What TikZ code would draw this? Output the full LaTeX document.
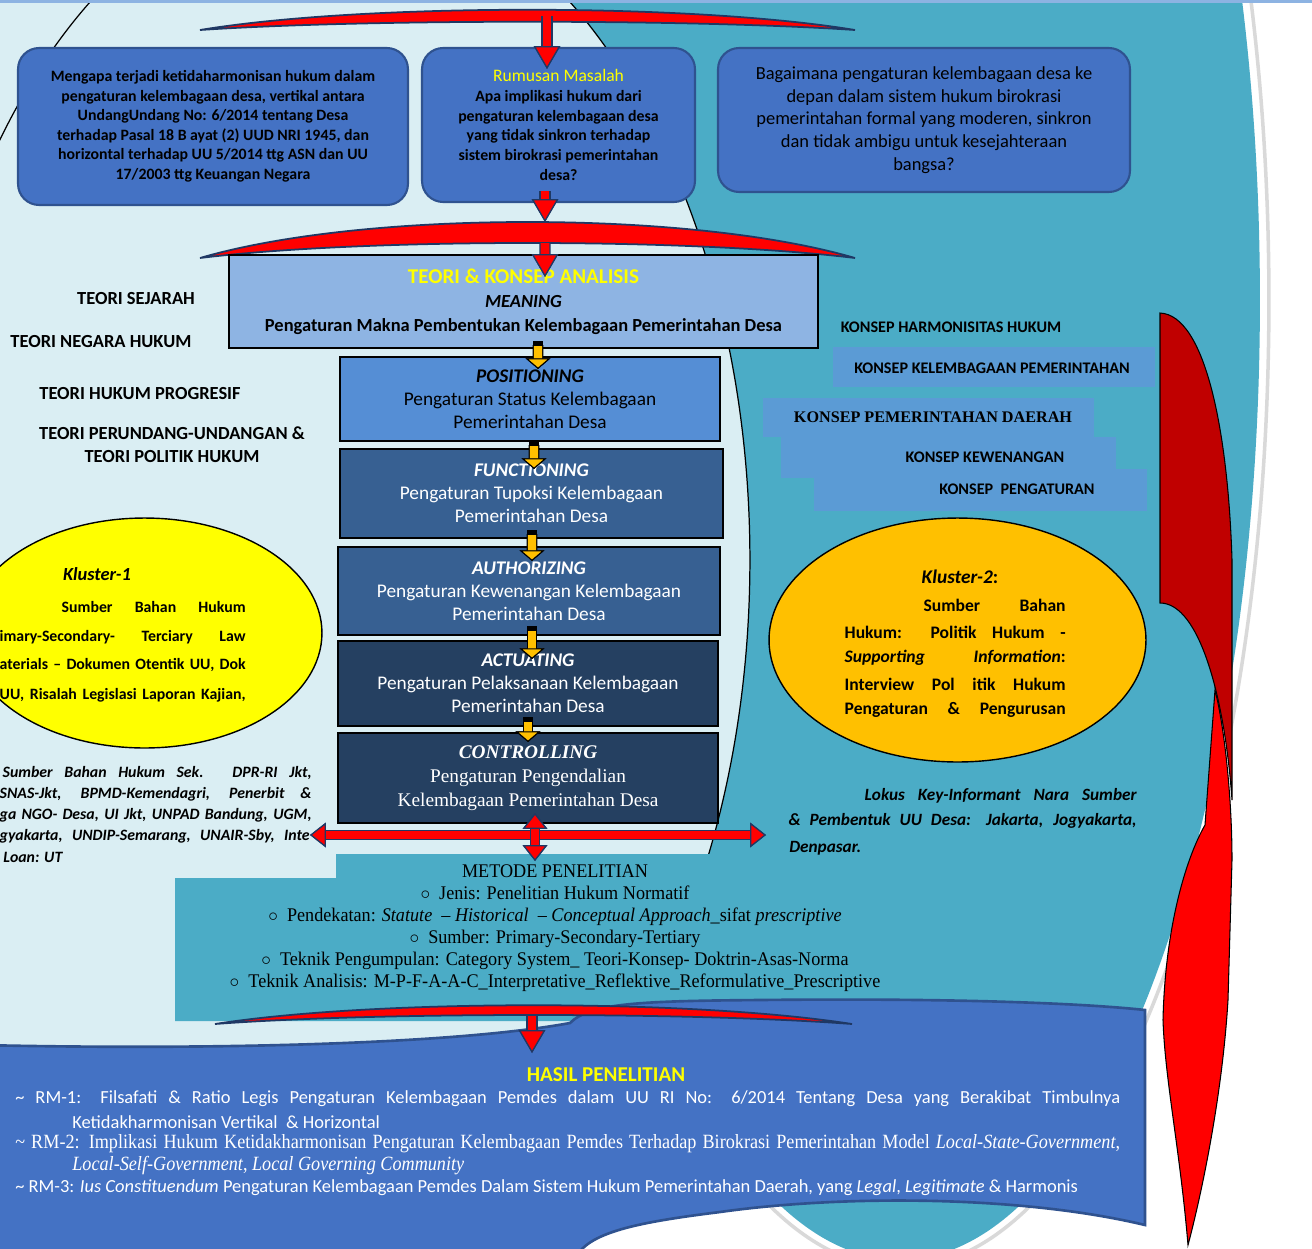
\documentclass[tikz,border=0pt]{standalone}
\usepackage{fontspec}
\setmainfont{Carlito}
\newfontfamily\tnr[Ligatures=TeX]{Liberation Serif}
\newfontfamily\tnrc[Ligatures=TeX,FakeStretch=0.9]{Liberation Serif}
\newfontfamily\tnrm[Ligatures=TeX,FakeStretch=0.94]{Liberation Serif}
\usetikzlibrary{arrows.meta,calc,positioning,shapes.geometric}

\definecolor{lightbg}{HTML}{DAEEF3}
\definecolor{teal1}{HTML}{4BACC6}
\definecolor{boxblue}{HTML}{4472C4}
\definecolor{boxedge}{HTML}{2F528F}
\definecolor{teoriblue}{HTML}{8EB4E3}
\definecolor{posblue}{HTML}{558ED5}
\definecolor{midnavy}{HTML}{376092}
\definecolor{darknavy}{HTML}{254061}
\definecolor{konsepblue}{HTML}{5B9BD5}
\definecolor{yel}{HTML}{FFFF00}
\definecolor{ambr}{HTML}{FFC000}
\definecolor{darkred}{HTML}{C00000}
\definecolor{navyline}{HTML}{1F3864}
\definecolor{topline}{HTML}{8DB3E2}

\newcommand{\jline}[2]{\makebox[#1][s]{#2}}
% curved red band: left x, right x, tip y, outer control y, inner control y
\newcommand{\redband}[5]{%
  \filldraw[band] (#1,#3) .. controls ({#1+(#2-#1)/4},#4) and ({#2-(#2-#1)/4},#4) .. (#2,#3)
    .. controls ({#2-(#2-#1)/4},#5) and ({#1+(#2-#1)/4},#5) .. cycle;}

\begin{document}
\begin{tikzpicture}[x=0.02cm, y=-0.02cm,
    qbox/.style={rectangle, rounded corners=12pt, draw=boxedge, line width=1.2pt, fill=boxblue, align=center, inner sep=0pt},
    stepbox/.style={rectangle, draw=black, line width=1.2pt, align=center, inner sep=0pt},
    kl/.style={ellipse, draw=black, line width=0.8pt, inner sep=0pt},
    teori/.style={font=\bfseries\fontsize{10.5}{13}\selectfont, align=center},
    konlbl/.style={font=\bfseries\fontsize{9.2}{11}\selectfont},
    kltx/.style={font=\bfseries\fontsize{9}{11}\selectfont, inner sep=0pt, anchor=east},
    k2tx/.style={font=\bfseries\fontsize{10}{12}\selectfont, inner sep=0pt, anchor=east},
    ltx/.style={font=\bfseries\itshape\fontsize{9}{11}\selectfont, inner sep=0pt},
    lok/.style={font=\bfseries\itshape\fontsize{9.8}{12}\selectfont, inner sep=0pt},
    rmtx/.style={text=white, inner sep=0pt, anchor=west},
    band/.style={fill=red, draw=navyline, line width=1pt},
    rarr/.style={draw=red, line width=5pt,
      -{Triangle[length=13pt,width=15pt,line width=0.7pt,fill=red,color=navyline]},
      preaction={draw=navyline, line width=6.4pt,
        -{Triangle[length=13pt,width=15pt,line width=0.7pt,fill=red,color=navyline]}}},
    rdbl/.style={draw=red, line width=4pt,
      {Triangle[length=9pt,width=14pt,line width=0.7pt,fill=red,color=navyline]}-{Triangle[length=9pt,width=14pt,line width=0.7pt,fill=red,color=navyline]},
      preaction={draw=navyline, line width=5.4pt,
        {Triangle[length=9pt,width=14pt,line width=0.7pt,fill=red,color=navyline]}-{Triangle[length=9pt,width=14pt,line width=0.7pt,fill=red,color=navyline]}}},
    yarr/.style={draw=ambr, line width=4.6pt,
      {Rectangle[length=3pt,width=6pt,fill=black,color=black]}-{Triangle[length=6pt,width=14pt,line width=0.6pt,fill=ambr,color=black]},
      preaction={draw=black, line width=6pt,
        {Rectangle[length=3pt,width=6pt,fill=black,color=black]}-{Triangle[length=6pt,width=14pt,line width=0.6pt,fill=ambr,color=black]}}}
  ]
\useasboundingbox (0,0) rectangle (1312,1248);
\clip (0,0) rectangle (1312,1248);

% background
\fill[white] (0,0) rectangle (1312,1248);
\fill[lightbg] (0,0) rectangle (300,1248);
\filldraw[fill=white, draw=gray!30, line width=2pt] (900,300) ellipse [x radius=7.38cm, y radius=19.36cm];
\fill[teal1] (900,300) ellipse [x radius=7.2cm, y radius=19.2cm];
\fill[lightbg] (330,560) ellipse [x radius=8.4cm, y radius=13.6cm];
\begin{scope}
  \clip (0,0) rectangle (1312,900);
  \draw[black, line width=0.7pt] (330,560) ellipse [x radius=8.4cm, y radius=13.6cm];
\end{scope}
\fill[topline] (0,0) rectangle (1312,3);

% metode area and hasil scroll
\fill[teal1] (175,878) -- (336,878) -- (336,854) -- (770,854) -- (770,1021) -- (175,1021) -- cycle;
\filldraw[fill=boxblue, draw=boxedge, line width=1.5pt] (-20,1045) .. controls (200,1050) and (450,1045) .. (570,1023)
  .. controls (590,1003) and (640,1001) .. (760,1000) .. controls (950,998) and (1080,1003) .. (1145,1010)
  -- (1145,1225) .. controls (1020,1195) and (840,1195) .. (720,1212)
  .. controls (640,1222) and (585,1232) .. (575,1260) -- (-20,1260) -- cycle;
\coordinate (scrolltop) at (532,1053);

% big curved arrow on the right
\filldraw[fill=red, draw=black, line width=0.6pt] (1215,690) .. controls (1225,730) and (1232,800) .. (1232,860)
  -- (1228,1000) .. controls (1222,1100) and (1200,1200) .. (1188,1245)
  .. controls (1180,1150) and (1165,1080) .. (1163,1020) .. controls (1165,930) and (1185,860) .. (1205,825) -- cycle;
\filldraw[fill=darkred, draw=black, line width=0.6pt] (1160,313) .. controls (1205,315) and (1228,430) .. (1232,560)
  -- (1232,800) .. controls (1225,700) and (1200,603) .. (1160,603) -- cycle;

% problem boxes
\node[qbox, minimum width=7.8cm, minimum height=3.14cm, font=\bfseries\fontsize{9}{11.1}\selectfont] (boxA) at (213,126.5)
  {Mengapa terjadi ketidaharmonisan hukum dalam\\ pengaturan kelembagaan desa, vertikal antara\\ UndangUndang No: 6/2014 tentang Desa\\ terhadap Pasal 18 B ayat (2) UUD NRI 1945, dan\\ horizontal terhadap UU 5/2014 ttg ASN dan UU\\ 17/2003 ttg Keuangan Negara};
\node[qbox, minimum width=5.46cm, minimum height=3.08cm, font=\bfseries\fontsize{9}{11.2}\selectfont] (boxB) at (558.5,125)
  {{\mdseries\fontsize{10}{11.2}\selectfont\color{yel}Rumusan Masalah}\\ Apa implikasi hukum dari\\ pengaturan kelembagaan desa\\ yang tidak sinkron terhadap\\ sistem birokrasi pemerintahan\\ desa?};
\node[qbox, minimum width=8.24cm, minimum height=2.88cm, font=\fontsize{10.5}{12.9}\selectfont] (boxC) at (924,120)
  {Bagaimana pengaturan kelembagaan desa ke\\ depan dalam sistem hukum birokrasi\\ pemerintahan formal yang moderen, sinkron\\ dan tidak ambigu untuk kesejahteraan\\ bangsa?};

% red bands
\redband{200}{855}{30}{3}{19}
\redband{200}{855}{258}{210}{238}
\redband{215}{852}{1024}{999}{1012}
\coordinate (b1) at (547,16);
\coordinate (b2) at (545,222);
\coordinate (b3) at (532,1016);

% konsep
\fill[konsepblue] (833,347) rectangle (1155,387);
\fill[konsepblue] (763,398) rectangle (1094,437);
\fill[konsepblue] (781,437) rectangle (1116,478);
\fill[konsepblue] (814,469) rectangle (1147,511);
\node[konlbl] (kharm) at (951,327) {KONSEP HARMONISITAS HUKUM};
\node[konlbl] (klem) at (992,368) {KONSEP KELEMBAGAAN PEMERINTAHAN};
\node[font=\tnr\bfseries\fontsize{9.2}{11}\selectfont] (kpd) at (933,417) {KONSEP PEMERINTAHAN DAERAH};
\node[konlbl] (kkew) at (985,457) {KONSEP KEWENANGAN};
\node[konlbl] (kpeng) at (1017,489) {KONSEP \ PENGATURAN};

% teori
\node[teori] (tsej) at (136,299) {TEORI SEJARAH};
\node[teori] (tneg) at (101,342) {TEORI NEGARA HUKUM};
\node[teori] (tprog) at (140,394) {TEORI HUKUM PROGRESIF};
\node[teori] (tpol) at (172,444.5) {TEORI PERUNDANG-UNDANGAN \&\\ TEORI POLITIK HUKUM};

% analysis steps
\node[stepbox, fill=teoriblue, minimum width=11.78cm, minimum height=1.86cm, font=\bfseries\fontsize{10.5}{13.6}\selectfont] (teori) at (523.5,301.5)
  {{\color{yel}\fontsize{12}{13.6}\selectfont TEORI \& KONSEP ANALISIS}\\ \textit{MEANING}\\ Pengaturan Makna Pembentukan Kelembagaan Pemerintahan Desa};
\node[stepbox, fill=posblue, minimum width=7.6cm, minimum height=1.68cm, font=\fontsize{11}{13}\selectfont] (pos) at (530,399)
  {\textbf{\textit{POSITIONING}}\\ Pengaturan Status Kelembagaan\\ Pemerintahan Desa};
\node[stepbox, fill=midnavy, text=white, minimum width=7.66cm, minimum height=1.78cm, font=\fontsize{11}{13}\selectfont] (func) at (531.5,493.5)
  {\textbf{\textit{FUNCTIONING}}\\ Pengaturan Tupoksi Kelembagaan\\ Pemerintahan Desa};
\node[stepbox, fill=midnavy, text=white, minimum width=7.64cm, minimum height=1.76cm, font=\fontsize{11}{13}\selectfont] (auth) at (529,591)
  {\textbf{\textit{AUTHORIZING}}\\ Pengaturan Kewenangan Kelembagaan\\ Pemerintahan Desa};
\node[stepbox, fill=darknavy, text=white, minimum width=7.6cm, minimum height=1.7cm, font=\fontsize{11}{13}\selectfont] (act) at (528,683.5)
  {\textbf{\textit{ACTUATING}}\\ Pengaturan Pelaksanaan Kelembagaan\\ Pemerintahan Desa};
\node[stepbox, fill=darknavy, text=white, minimum width=7.6cm, minimum height=1.8cm, font=\tnr\fontsize{11}{13.5}\selectfont] (ctrl) at (528,778)
  {\textbf{\textit{CONTROLLING}}\\ Pengaturan Pengendalian\\ Kelembagaan Pemerintahan Desa};

% kluster 1
\node[kl, fill=yel, minimum width=7.1cm, minimum height=4.6cm] (kl1) at (144.5,633) {};
\node[font=\bfseries\itshape\fontsize{10.5}{12}\selectfont] (kl1t) at (97,574) {Kluster-1};
\node[kltx] (kl1a) at (246,607) {\jline{3.68cm}{Sumber Bahan Hukum}};
\node[kltx] (kl1b) at (246,637) {\jline{4.92cm}{imary-Secondary- Terciary Law}};
\node[kltx] (kl1c) at (246,665) {\jline{4.92cm}{aterials -- Dokumen Otentik UU, Dok}};
\node[kltx] (kl1d) at (246,695) {\jline{4.92cm}{UU, Risalah Legislasi Laporan Kajian,}};

% kluster 2
\node[kl, fill=ambr, minimum width=7.54cm, minimum height=4.88cm] (kl2) at (957.5,640) {};
\node[font=\bfseries\fontsize{11}{13}\selectfont] (kl2t) at (960,577) {\textit{Kluster-2}:};
\node[k2tx] (kl2a) at (1066,605) {\jline{2.84cm}{Sumber Bahan}};
\node[k2tx] (kl2b) at (1066,632) {\jline{4.42cm}{Hukum: Politik Hukum -}};
\node[k2tx] (kl2c) at (1066,658) {\jline{4.42cm}{\textit{Supporting} \textit{Information}:}};
\node[k2tx] (kl2d) at (1066,684) {\jline{4.42cm}{Interview Pol itik Hukum}};
\node[k2tx] (kl2e) at (1066,710) {\jline{4.42cm}{Pengaturan \& Pengurusan}};

% sumber sekunder
\node[ltx, anchor=east] (src1) at (312,773) {\jline{6.18cm}{Sumber Bahan Hukum Sek. DPR-RI Jkt,}};
\node[ltx, anchor=east] (src2) at (312,794) {\jline{6.24cm}{SNAS-Jkt, BPMD-Kemendagri, Penerbit \&}};
\node[ltx, anchor=east] (src3) at (312,815) {\jline{6.24cm}{ga NGO- Desa, UI Jkt, UNPAD Bandung, UGM,}};
\node[ltx, anchor=east] (src4) at (310,836) {\jline{6.2cm}{gyakarta, UNDIP-Semarang, UNAIR-Sby, Inte}};
\node[ltx, anchor=west] (src5) at (3,857) {Loan: UT};

% lokus
\node[lok, anchor=east] (lok1) at (1137,796) {\jline{5.44cm}{Lokus Key-Informant Nara Sumber}};
\node[lok, anchor=east] (lok2) at (1137,821) {\jline{6.96cm}{\& Pembentuk UU Desa: Jakarta, Jogyakarta,}};
\node[lok, anchor=west] (lok3) at (789,848) {Denpasar.};

% metode
\node[font=\tnrm\fontsize{11}{12.6}\selectfont, align=center, inner sep=0pt] (metode) at (555,928)
  {METODE PENELITIAN\\
   $\circ$ \ Jenis: Penelitian Hukum Normatif\\
   $\circ$ \ Pendekatan: \textit{Statute \ – Historical \ – Conceptual Approach}\_sifat \textit{prescriptive}\\
   $\circ$ \ Sumber: Primary-Secondary-Tertiary\\
   $\circ$ \ Teknik Pengumpulan: Category System\_ Teori-Konsep- Doktrin-Asas-Norma\\
   $\circ$ \ Teknik Analisis: M-P-F-A-A-C\_Interpretative\_Reflektive\_Reformulative\_Prescriptive};
\coordinate (mtop) at (535,861);

% hasil
\node[font=\bfseries\fontsize{12}{13}\selectfont, text=yel] (hasil) at (606,1075) {HASIL PENELITIAN};
\node[rmtx, font=\fontsize{10.5}{12}\selectfont] (rm1) at (15,1099)
  {\jline{22.1cm}{\textasciitilde{} RM-1: Filsafati \& Ratio Legis Pengaturan Kelembagaan Pemdes dalam UU RI No: 6/2014 Tentang Desa yang Berakibat Timbulnya}};
\node[rmtx, font=\fontsize{10.5}{12}\selectfont] (rm1b) at (72,1122) {Ketidakharmonisan Vertikal \ \& Horizontal};
\node[rmtx, font=\tnrc\fontsize{11.5}{13}\selectfont] (rm2) at (15,1144)
  {\jline{22.1cm}{\textasciitilde{} RM-2: Implikasi Hukum Ketidakharmonisan Pengaturan Kelembagaan Pemdes Terhadap Birokrasi Pemerintahan Model \textit{Local-State-Government},}};
\node[rmtx, font=\tnrc\fontsize{11.5}{13}\selectfont] (rm2b) at (72,1166) {\textit{Local-Self-Government}, \textit{Local Governing Community}};
\node[rmtx, font=\fontsize{10.5}{12}\selectfont] (rm3) at (15,1188)
  {\textasciitilde{} RM-3: \textit{Ius Constituendum} Pengaturan Kelembagaan Pemdes Dalam Sistem Hukum Pemerintahan Daerah, yang \textit{Legal}, \textit{Legitimate} \& Harmonis};

% connectors
\draw[rarr] (b1) -- ($(boxB.north)+(-11.5,22)$);
\draw[rarr] ($(boxB.south)+(-13.5,-12)$) -- (b2);
\draw[rarr] ($(b2)+(0,21)$) -- ($(teori.north)+(21.5,23)$);
\draw[yarr] ($(teori.south)+(14.5,-8)$) -- ($(pos.north)+(8,13)$);
\draw[yarr] ($(pos.south)+(4,-1)$) -- ($(func.north)+(2.5,21)$);
\draw[yarr] ($(func.south)+(0.5,-9)$) -- ($(auth.north)+(3,15)$);
\draw[yarr] ($(auth.south)+(3,-10)$) -- ($(act.north)+(4,19)$);
\draw[yarr] ($(act.south)+(0,-10)$) -- ($(ctrl.north)+(0,10)$);
\coordinate (hl) at (310,835);
\coordinate (hr) at (766,835);
\draw[rdbl] (hl) -- (hr);
\draw[rdbl] ($(ctrl.south)+(7,-11)$) -- (mtop);
\draw[rarr] (b3) -- (scrolltop);
\end{tikzpicture}
\end{document}
